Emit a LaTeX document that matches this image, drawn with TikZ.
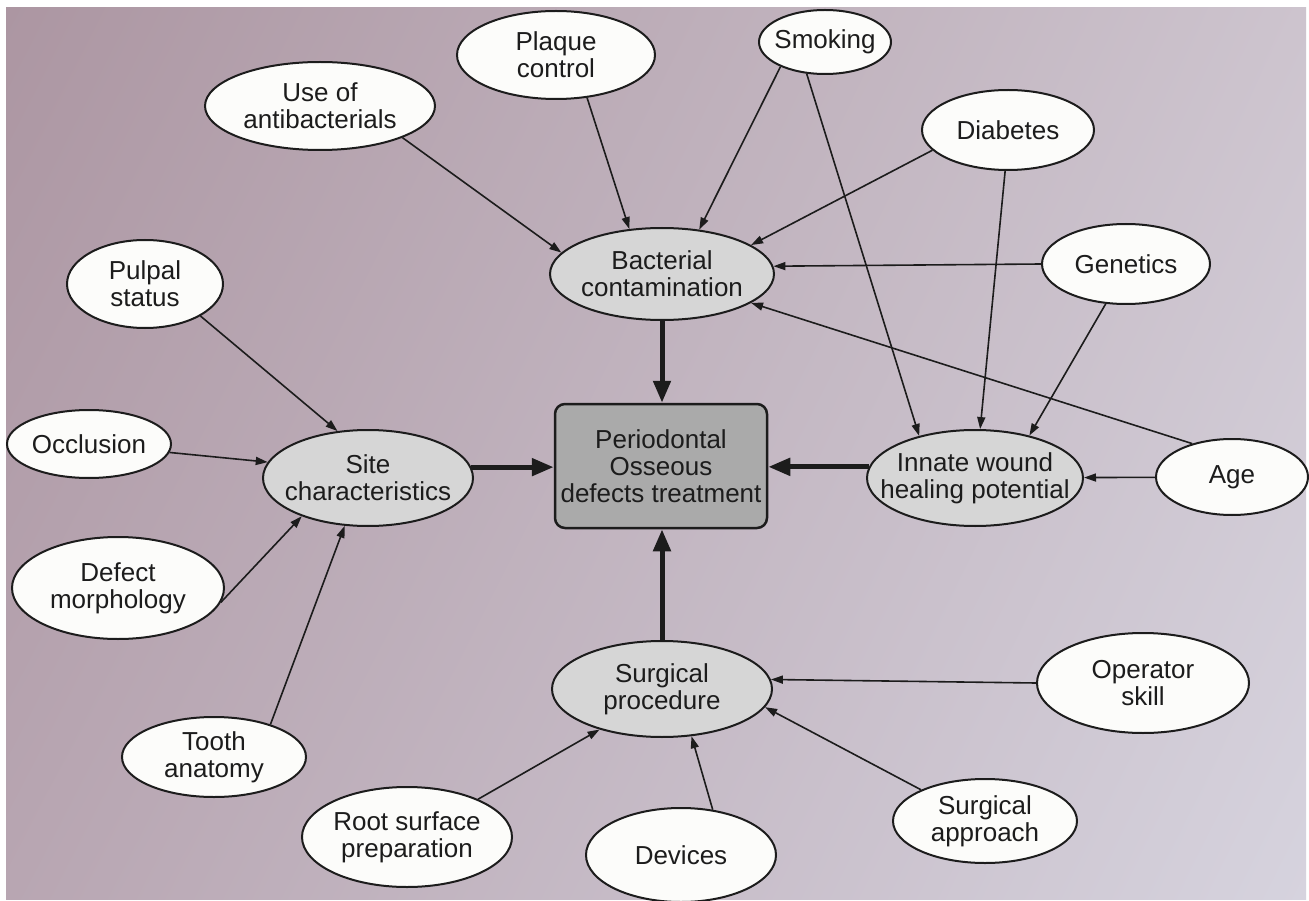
\documentclass[tikz,border=0pt]{standalone}
\usepackage{fontspec}
\setmainfont{Liberation Sans}
\usetikzlibrary{shapes.geometric,arrows.meta,shadings}
\definecolor{bgTL}{RGB}{172,150,162}
\definecolor{bgTR}{RGB}{205,196,206}
\definecolor{bgBL}{RGB}{184,166,178}
\definecolor{bgBR}{RGB}{214,211,222}
\definecolor{ovwhite}{RGB}{252,252,250}
\definecolor{ovgrey}{RGB}{214,214,214}
\definecolor{boxgrey}{RGB}{170,170,170}
\definecolor{ink}{RGB}{28,28,28}
\begin{document}
\begin{tikzpicture}[x=1pt,y=-1pt,
  txt/.style={font=\fontsize{26}{27}\selectfont, align=center, inner sep=0pt, text=ink},
  ov/.style={ellipse, draw=ink, line width=2pt, fill=ovwhite, inner sep=0pt},
  gov/.style={ov, fill=ovgrey},
  lnk/.style={draw=ink, line width=1.6pt, -{Triangle[length=12pt,width=8pt]}},
  big/.style={draw=ink, line width=5pt, -{Triangle[length=22pt,width=17pt]}}]
\useasboundingbox (0,0) rectangle (1309,901);
\fill[white] (0,0) rectangle (1309,901);
\shade[upper left=bgTL, upper right=bgTR, lower left=bgBL, lower right=bgBR] (6,8) rectangle (1306,899);

% outer factor ellipses
\node[ov, minimum width=230pt, minimum height=88pt, label={[txt]center:Use of\\antibacterials}] (anti) at (320,106) {};
\node[ov, minimum width=198pt, minimum height=88pt, label={[txt]center:Plaque\\control}] (plaque) at (556,55) {};
\node[ov, minimum width=132pt, minimum height=64pt, label={[txt]center:Smoking}] (smoking) at (825,42) {};
\node[ov, minimum width=172pt, minimum height=80pt, label={[txt]center:Diabetes}] (diabetes) at (1008,130) {};
\node[ov, minimum width=168pt, minimum height=80pt, label={[txt]center:Genetics}] (genetics) at (1126,264) {};
\node[ov, minimum width=156pt, minimum height=88pt, label={[txt]center:Pulpal\\status}] (pulpal) at (145,284) {};
\node[ov, minimum width=164pt, minimum height=68pt, label={[txt]center:Occlusion}] (occlusion) at (89,444) {};
\node[ov, minimum width=212pt, minimum height=102pt, label={[txt]center:Defect\\morphology}] (defect) at (118,588) {};
\node[ov, minimum width=184pt, minimum height=80pt, label={[txt]center:Tooth\\anatomy}] (tooth) at (214,757) {};
\node[ov, minimum width=152pt, minimum height=76pt, label={[txt]center:Age}] (age) at (1232,477) {};
\node[ov, minimum width=212pt, minimum height=100pt, label={[txt]center:Operator\\skill}] (operator) at (1143,683) {};
\node[ov, minimum width=184pt, minimum height=84pt, label={[txt]center:Surgical\\approach}] (approach) at (985,821) {};
\node[ov, minimum width=210pt, minimum height=100pt, label={[txt]center:Root surface\\preparation}] (root) at (407,837) {};
\node[ov, minimum width=190pt, minimum height=94pt, label={[txt]center:Devices}] (devices) at (681,855) {};

% intermediate grey ellipses
\node[gov, minimum width=224pt, minimum height=92pt, label={[txt]center:Bacterial\\contamination}] (bact) at (662,274) {};
\node[gov, minimum width=210pt, minimum height=96pt, label={[txt]center:Site\\characteristics}] (site) at (368,478) {};
\node[gov, minimum width=216pt, minimum height=96pt, label={[txt]center:Innate wound\\healing potential}] (innate) at (975,478) {};
\node[gov, minimum width=220pt, minimum height=96pt, label={[txt]center:Surgical\\procedure}] (surgproc) at (662,689) {};

% central box
\node[draw=ink, line width=2.5pt, fill=boxgrey, rounded corners=10pt, minimum width=212pt, minimum height=124pt, inner sep=0pt, label={[txt]center:Periodontal\\Osseous\\defects treatment}] (box) at (661,466) {};

% thin connectors
\draw[lnk] (anti.-21) -- (bact.168);
\draw[lnk] (plaque.-54) -- (bact.126);
\draw[lnk] (smoking.209) -- (bact.50);
\draw[lnk] (smoking.240) -- (innate.143);
\draw[lnk] (diabetes.195) -- (bact.18);
\draw[lnk] (diabetes.266) -- (innate.84);
\draw[lnk] (genetics.west) -- (bact.4);
\draw[lnk] (genetics.243) -- (innate.38);
\draw[lnk] (age.140) -- (bact.-18);
\draw[lnk] (age) -- (innate);
\draw[lnk] (pulpal.-30) -- (site.123);
\draw[lnk] (occlusion.-6) -- (site.171);
\draw[lnk] (defect.-8) -- (site.210);
\draw[lnk] (tooth.30) -- (site.244);
\draw[lnk] (root.28) -- (surgproc.213);
\draw[lnk] (devices.55) -- (surgproc.-58);
\draw[lnk] (approach.154) -- (surgproc.-10);
\draw[lnk] (operator.west) -- (surgproc.5);

% thick connectors
\draw[big] (bact.south) -- (bact.south |- box.north);
\draw[big] (surgproc.north) -- (surgproc.north |- box.south);
\draw[big] (site.6) -- (site.6 -| box.west);
\draw[big] (innate.174) -- (innate.174 -| box.east);
\end{tikzpicture}
\end{document}
